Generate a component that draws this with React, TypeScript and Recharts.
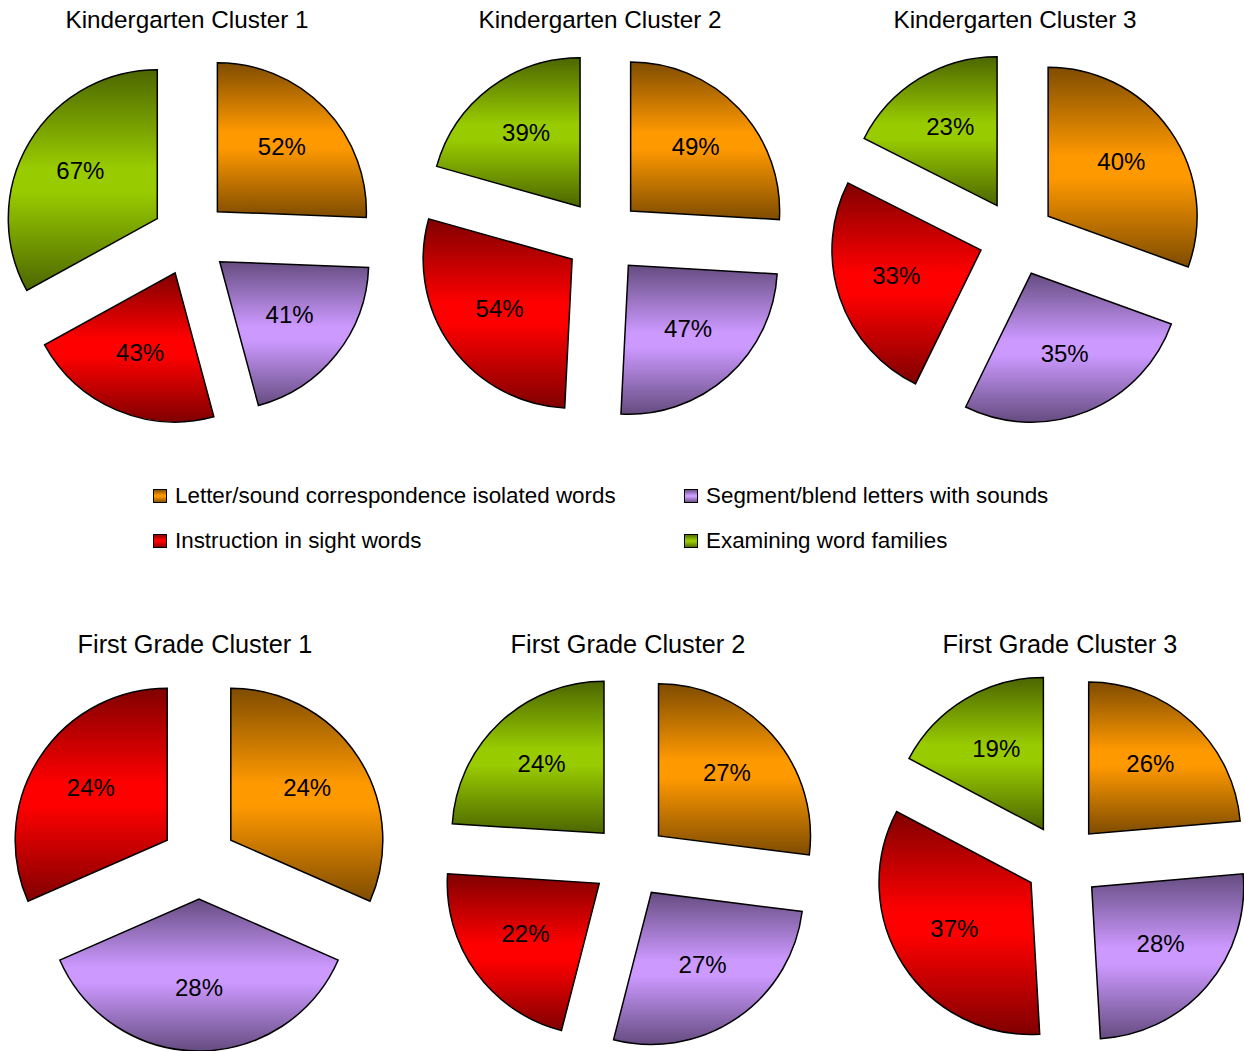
import React from 'react';
import { PieChart, Pie, Sector } from 'recharts';

const categories = [
  'Letter/sound correspondence isolated words',
  'Segment/blend letters with sounds',
  'Instruction in sight words',
  'Examining word families',
];
const colorKeys = ['orange', 'purple', 'red', 'green'];

// percentages per cluster, in category order (null = not shown)
const kinder1 = [52, 41, 43, 67];
const kinder2 = [49, 47, 54, 39];
const kinder3 = [40, 35, 33, 23];
const first1 = [24, 28, 24, null];
const first2 = [27, 27, 22, 24];
const first3 = [26, 28, 37, 19];

const titles = [
  'Kindergarten Cluster 1',
  'Kindergarten Cluster 2',
  'Kindergarten Cluster 3',
  'First Grade Cluster 1',
  'First Grade Cluster 2',
  'First Grade Cluster 3',
];

const gradients: Record<string, [string, string]> = {
  orange: ['#7F4C00', '#FF9900'],
  purple: ['#654C80', '#CC99FF'],
  red: ['#800000', '#FF0000'],
  green: ['#4C6600', '#99CC00'],
};

const FONT = '"Liberation Sans", Arial, sans-serif';
const RADIAN = Math.PI / 180;
const EXPLODE = 38;
const BOX = 420;

const panels = [
  { title: titles[0], values: kinder1, cx: 190, cy: 238, r: 149, titleTop: 8, titleX: 187, titleSize: 24.3 },
  { title: titles[1], values: kinder2, cx: 603, cy: 237, r: 149, titleTop: 8, titleX: 600, titleSize: 24.3 },
  { title: titles[2], values: kinder3, cx: 1017, cy: 238, r: 149, titleTop: 8, titleX: 1015, titleSize: 24.3 },
  { title: titles[3], values: first1, cx: 199, cy: 861, r: 152, titleTop: 632, titleX: 195, titleSize: 25.3 },
  { title: titles[4], values: first2, cx: 630, cy: 861, r: 152, titleTop: 632, titleX: 628, titleSize: 25.3 },
  { title: titles[5], values: first3, cx: 1063, cy: 862, r: 152, titleTop: 632, titleX: 1060, titleSize: 25.3 },
];

const toData = (values: (number | null)[]) =>
  values
    .map((v, i) => ({ name: categories[i], value: v, color: colorKeys[i] }))
    .filter(d => d.value != null);

// draws each slice pushed out along its mid angle, plus its % label
const renderSlice = (props: any) => {
  const { cx, cy, midAngle, outerRadius, startAngle, endAngle, value } = props;
  const color = props.payload?.color ?? props.color;
  const ux = Math.cos(-midAngle * RADIAN);
  const uy = Math.sin(-midAngle * RADIAN);
  const sx = cx + ux * EXPLODE;
  const sy = cy + uy * EXPLODE;
  const lr = outerRadius * 0.6;
  return (
    <g>
      <Sector
        cx={sx}
        cy={sy}
        innerRadius={0}
        outerRadius={outerRadius}
        startAngle={startAngle}
        endAngle={endAngle}
        fill={`url(#grad-${color})`}
        stroke="#000"
        strokeWidth={1.5}
      />
      <text
        x={sx + ux * lr}
        y={sy + uy * lr - 3}
        textAnchor="middle"
        dominantBaseline="central"
        fontSize={24}
        fontFamily={FONT}
        fill="#000"
      >
        {`${value}%`}
      </text>
    </g>
  );
};

const legendRows = [
  [0, 1],
  [2, 3],
];

export default function App() {
  return (
    <div
      style={{
        position: 'absolute',
        left: 0,
        top: 0,
        width: 1244,
        height: 1051,
        background: '#fff',
        fontFamily: FONT,
        overflow: 'hidden',
      }}
    >
      <svg width={0} height={0} style={{ position: 'absolute' }}>
        <defs>
          {colorKeys.map(k => (
            <linearGradient key={k} id={`grad-${k}`} x1="0" y1="0" x2="0" y2="1">
              <stop offset="0" stopColor={gradients[k][0]} />
              <stop offset="0.45" stopColor={gradients[k][1]} />
              <stop offset="0.55" stopColor={gradients[k][1]} />
              <stop offset="1" stopColor={gradients[k][0]} />
            </linearGradient>
          ))}
        </defs>
      </svg>

      {panels.map(p => (
        <React.Fragment key={p.title}>
          <div
            style={{
              position: 'absolute',
              left: p.titleX - 200,
              top: p.titleTop,
              width: 400,
              textAlign: 'center',
              fontSize: p.titleSize,
              lineHeight: '24px',
              color: '#000',
              whiteSpace: 'nowrap',
            }}
          >
            {p.title}
          </div>
          <div style={{ position: 'absolute', left: p.cx - BOX / 2, top: p.cy - BOX / 2 }}>
            <PieChart
              width={BOX}
              height={BOX}
              margin={{ top: 0, right: 0, bottom: 0, left: 0 }}
              style={{ overflow: 'visible' }}
            >
              <Pie
                data={toData(p.values)}
                dataKey="value"
                nameKey="name"
                cx={BOX / 2}
                cy={BOX / 2}
                innerRadius={0}
                outerRadius={p.r}
                startAngle={90}
                endAngle={-270}
                fill="none"
                stroke="none"
                labelLine={false}
                label={renderSlice}
                isAnimationActive={false}
              />
            </PieChart>
          </div>
        </React.Fragment>
      ))}

      {legendRows.map((row, ri) =>
        row.map((ci, colIdx) => (
          <div
            key={ci}
            style={{
              position: 'absolute',
              left: colIdx === 0 ? 153 : 684,
              top: ri === 0 ? 484 : 529,
              height: 24,
              display: 'flex',
              alignItems: 'center',
              whiteSpace: 'nowrap',
            }}
          >
            <svg width={14} height={14} style={{ marginRight: 8 }}>
              <rect x={0.5} y={0.5} width={13} height={13} fill={`url(#grad-${colorKeys[ci]})`} stroke="#000" />
            </svg>
            <span style={{ fontSize: 22.4, lineHeight: '24px', color: '#000' }}>{categories[ci]}</span>
          </div>
        ))
      )}
    </div>
  );
}
